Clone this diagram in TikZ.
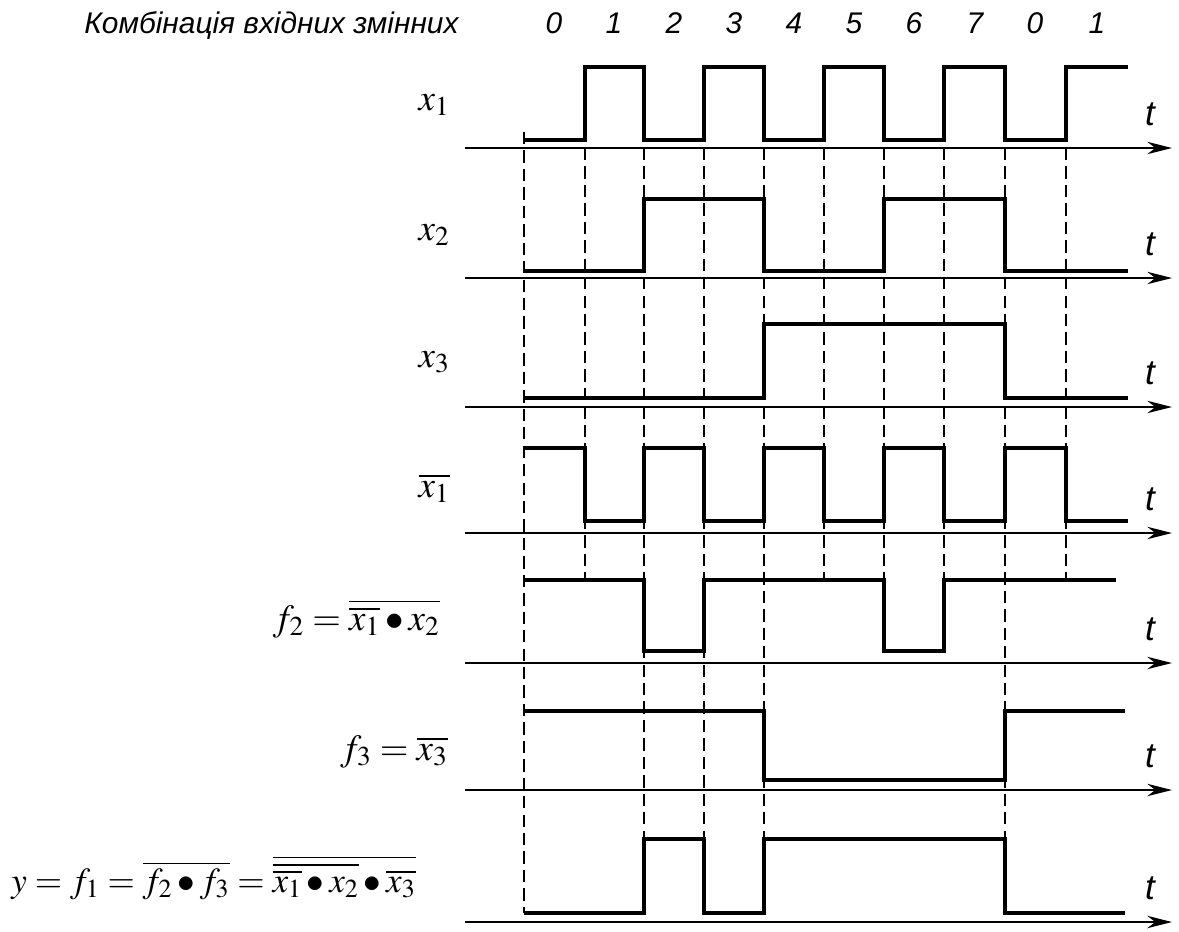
\documentclass[tikz,border=0pt]{standalone}
\usepackage{mathptmx}
\usepackage[no-math]{fontspec}
\setmainfont{Liberation Serif}
\newfontfamily\sansfont{Liberation Sans}
\usetikzlibrary{arrows.meta}

\tikzset{
  sig/.style={line width=2.2pt,line join=miter},
  axis/.style={line width=1.5pt,-{Stealth[length=14pt,width=7pt,inset=4.5pt]}},
  guide/.style={line width=1.5pt,dash pattern=on 7pt off 3.5pt},
  mlabel/.style={anchor=base east,inner sep=0pt,font=\fontsize{21}{25}\selectfont},
  tlabel/.style={inner sep=0pt,font=\sansfont\itshape\fontsize{17}{20}\selectfont},
}

\begin{document}
\begin{tikzpicture}[x=0.02cm,y=-0.02cm]
  \useasboundingbox (0,0) rectangle (1179,931);
  % header
  \node[tlabel,anchor=base west] (head) at (84,33) {Комбінація вхідних змінних};
  \foreach \cx/\k [count=\i] in {554/0,614/1,674/2,734/3,794/4,854/5,914/6,975/7,1035/0,1097/1}
    \node[tlabel,anchor=base] (comb\i) at (\cx,33) {\k};
  % time axes
  \foreach \ya [count=\n] in {148,278,407,533,663,790,922} {
    \coordinate (axs\n) at (465,\ya);
    \coordinate (axe\n) at (1172,\ya);
    \draw[axis] (axs\n) -- (axe\n);
    \node[tlabel,font=\sansfont\itshape\fontsize{20}{24}\selectfont] (t\n) at (1150,\ya-34) {t};
  }
  % dashed guide lines
  \draw[guide] (524,132) -- (524,913);
  \foreach \gx in {644,704,764,1005}
    \draw[guide] (\gx,148) -- (\gx,913);
  \foreach \gx in {585,824,884,944,1066}
    \draw[guide] (\gx,148) -- (\gx,580);
  % x1
  \draw[sig] (524,140) -- (585,140) -- (585,67) -- (644,67) -- (644,140) -- (704,140)
    -- (704,67) -- (764,67) -- (764,140) -- (824,140) -- (824,67) -- (884,67)
    -- (884,140) -- (944,140) -- (944,67) -- (1005,67) -- (1005,140) -- (1066,140)
    -- (1066,67) -- (1128,67);
  % x2
  \draw[sig] (524,271) -- (644,271) -- (644,199) -- (764,199) -- (764,271) -- (884,271)
    -- (884,199) -- (1005,199) -- (1005,271) -- (1128,271);
  % x3
  \draw[sig] (524,398) -- (764,398) -- (764,324) -- (1005,324) -- (1005,398) -- (1128,398);
  % not x1
  \draw[sig] (524,448) -- (585,448) -- (585,521) -- (644,521) -- (644,448) -- (704,448)
    -- (704,521) -- (764,521) -- (764,448) -- (824,448) -- (824,521) -- (884,521)
    -- (884,448) -- (944,448) -- (944,521) -- (1005,521) -- (1005,448) -- (1066,448)
    -- (1066,521) -- (1128,521);
  % f2
  \draw[sig] (524,580) -- (644,580) -- (644,651) -- (704,651) -- (704,580) -- (884,580)
    -- (884,651) -- (944,651) -- (944,580) -- (1116,580);
  % f3
  \draw[sig] (524,711) -- (764,711) -- (764,780) -- (1005,780) -- (1005,711) -- (1125,711);
  % y
  \draw[sig] (524,913) -- (644,913) -- (644,839) -- (704,839) -- (704,913) -- (764,913)
    -- (764,839) -- (1005,839) -- (1005,913) -- (1125,913);
  % signal names
  \node[mlabel] (lblxa) at (450,110) {$x_1$};
  \node[mlabel] (lblxb) at (450,240) {$x_2$};
  \node[mlabel] (lblxc) at (450,367) {$x_3$};
  \node[mlabel] (lblnxa) at (450,497) {$\overline{x_1}$};
  \node[mlabel] (lblfb) at (440,630) {$f_2=\overline{\overline{x_1}\bullet x_2}$};
  \node[mlabel] (lblfc) at (448,760) {$f_3=\overline{x_3}$};
  \node[mlabel,font=\fontsize{20}{24}\selectfont] (lbly) at (416,892)
    {$y=f_1=\overline{f_2\bullet f_3}=\overline{\overline{\overline{x_1}\bullet x_2}\bullet\overline{x_3}}$};
\end{tikzpicture}
\end{document}
